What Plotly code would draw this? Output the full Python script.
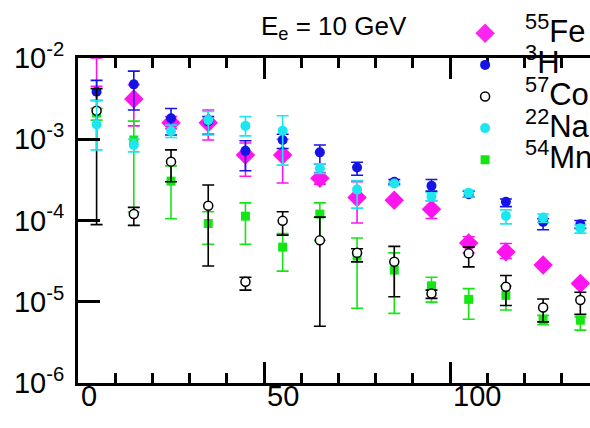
import numpy as np
import plotly.graph_objects as go

# Bin centres (x) shared by all isotopes
x_bins = [5, 15, 25, 35, 45, 55, 65, 75, 85, 95, 105, 115, 125, 135]

# 55Fe
fe_val = [7.0e-3, 3.13e-3, 1.6e-3, 1.6e-3, 6.4e-4, 6.4e-4, 3.3e-4, 1.92e-4, 1.78e-4, 1.38e-4, 5.3e-5, 4.1e-5, 2.83e-5, 1.68e-5]
fe_hi = [1.0e-2, 4.7e-3, 1.9e-3, 2.29e-3, 9.0e-4, 1.0e-3, 3.9e-4, 3.0e-4, 1.9e-4, 1.75e-4, 6.3e-5, 5.2e-5, 3.0e-5, 1.8e-5]
fe_lo = [4.5e-3, 1.46e-3, 1.35e-3, 9.8e-4, 3.5e-4, 2.9e-4, 2.8e-4, 9.3e-5, 1.66e-4, 1.06e-4, 4.0e-5, 3.4e-5, 2.66e-5, 1.56e-5]

# 3H
h_val = [3.85e-3, 4.74e-3, 1.81e-3, 1.65e-3, 7.2e-4, 9.8e-4, 6.9e-4, 4.5e-4, 3.0e-4, 2.67e-4, 2.1e-4, 1.7e-4, 9.6e-5, 9.0e-5]
h_hi = [5.3e-3, 6.9e-3, 2.39e-3, 1.9e-3, 9.6e-4, 1.15e-3, 8.5e-4, 5.2e-4, 3.2e-4, 3.2e-4, 2.3e-4, 1.84e-4, 1.05e-4, 1.0e-4]
h_lo = [3.0e-3, 2.29e-3, 1.13e-3, 1.15e-3, 4.1e-4, 7.7e-4, 5.0e-4, 3.6e-4, 2.8e-4, 2.3e-4, 1.95e-4, 1.48e-4, 7.7e-5, 8.0e-5]

# 57Co
co_val = [2.24e-3, 1.2e-4, 5.3e-4, 1.52e-4, 1.76e-5, 9.9e-5, 5.7e-5, 4.0e-5, 3.1e-5, 1.26e-5, 3.94e-5, 1.53e-5, 8.5e-6, 1.05e-5]
co_hi = [4.2e-3, 1.45e-4, 7.4e-4, 2.73e-4, 2.0e-5, 1.28e-4, 1.1e-4, 4.5e-5, 4.8e-5, 1.39e-5, 4.7e-5, 2.1e-5, 1.08e-5, 1.31e-5]
co_lo = [8.9e-5, 8.7e-5, 3.0e-4, 2.76e-5, 1.39e-5, 6.6e-5, 5.0e-6, 3.1e-5, 1.15e-5, 1.1e-5, 2.69e-5, 9.0e-6, 5.66e-6, 7.0e-6]

# 22Na
na_val = [1.52e-3, 8.5e-4, 1.26e-3, 1.72e-3, 1.46e-3, 1.27e-3, 4.4e-4, 2.4e-4, 2.86e-4, 1.96e-4, 2.2e-4, 1.14e-4, 1.09e-4, 8.0e-5]
na_hi = [3.0e-3, 1.0e-3, 1.5e-3, 2.2e-3, 1.9e-3, 1.95e-3, 5.0e-4, 3.1e-4, 3.0e-4, 2.2e-4, 2.35e-4, 1.35e-4, 1.2e-4, 8.8e-5]
na_lo = [7.4e-4, 7.0e-4, 1.05e-3, 1.13e-3, 1.1e-3, 4.8e-4, 3.8e-4, 1.42e-4, 2.7e-4, 1.75e-4, 1.95e-4, 9.1e-5, 9.5e-5, 7.0e-5]

# 54Mn
mn_val = [2.1e-3, 9.8e-4, 3.05e-4, 9.2e-5, 1.13e-4, 4.7e-5, 1.2e-4, 3.65e-5, 2.45e-5, 1.57e-5, 1.07e-5, 1.2e-5, 5.93e-6, 5.93e-6]
mn_hi = [2.4e-3, 1.67e-3, 4.7e-4, 1.28e-4, 1.65e-4, 6.9e-5, 1.65e-4, 6.1e-5, 4.0e-5, 2.0e-5, 1.45e-5, 1.56e-5, 6.8e-6, 6.5e-6]
mn_lo = [1.72e-3, 1.27e-4, 1.05e-4, 5.1e-5, 5.1e-5, 2.38e-5, 5.7e-5, 8.3e-6, 7.2e-6, 9.9e-6, 6.1e-6, 7.9e-6, 5.2e-6, 4.47e-6]

y_tickvals = [1e-6, 1e-5, 1e-4, 1e-3, 1e-2]
y_ticktext = ["10<sup>-6</sup>", "10<sup>-5</sup>", "10<sup>-4</sup>", "10<sup>-3</sup>", "10<sup>-2</sup>"]
x_tickvals = [0, 50, 100]

FONT = "Liberation Sans, Arial, sans-serif"


def label(mass, symbol):
    return f'<span style="font-size:31px"><sup>{mass}</sup>{symbol}</span>'


def series(name, val, hi, lo, color, symbol, size, rank, fill=None, opacity=None):
    v = np.array(val)
    up = np.array(hi) - v
    dn = v - np.array(lo)
    return go.Scatter(
        x=x_bins, y=val, mode="markers", name=name, legendrank=rank,
        marker=dict(symbol=symbol, size=size, color=fill or color,
                    opacity=opacity,
                    line=dict(color=color, width=1.5 if fill else 0)),
        error_y=dict(type="data", symmetric=False, array=up, arrayminus=dn,
                     color=color, thickness=1.6, width=6),
    )


fig = go.Figure()
fig.add_trace(series(label(55, "Fe"), fe_val, fe_hi, fe_lo, "#FF14F0", "diamond", 15, 1,
                     opacity=[0] + [1] * (len(fe_val) - 1)))
fig.add_trace(series(label(3, "H"), h_val, h_hi, h_lo, "#1414E6", "circle", 10, 2))
fig.add_trace(series(label(54, "Mn"), mn_val, mn_hi, mn_lo, "#14E614", "square", 9, 5))
fig.add_trace(series(label(57, "Co"), co_val, co_hi, co_lo, "#000000", "circle", 9, 3, fill="#FFFFFF"))
fig.add_trace(series(label(22, "Na"), na_val, na_hi, na_lo, "#1EE6F0", "circle", 10, 4))

axis_common = dict(showgrid=False, zeroline=False, linecolor="black", linewidth=3,
                   ticks="inside", tickcolor="black", tickwidth=3,
                   tickfont=dict(family=FONT, size=29, color="black"))

fig.update_xaxes(range=[0, 137.6], tickvals=x_tickvals, ticklen=21, mirror="ticks",
                 ticklabelposition="outside right", ticklabelstandoff=-15,
                 minor=dict(dtick=10, ticklen=10, tickwidth=3, ticks="inside", tickcolor="black"),
                 **axis_common)
fig.update_yaxes(type="log", range=[-6, -2], tickvals=y_tickvals, ticktext=y_ticktext,
                 ticklen=22, mirror=False, ticklabelstandoff=5, **axis_common)

fig.add_annotation(text="E<sub>e</sub> = 10 GeV", xref="paper", yref="paper",
                   x=0.5, y=1.095, showarrow=False, xanchor="center", yanchor="middle",
                   font=dict(family=FONT, size=26, color="black"))

fig.update_layout(
    width=590, height=428,
    margin=dict(l=78, r=0, t=58, b=45, autoexpand=False),
    paper_bgcolor="white", plot_bgcolor="white",
    font=dict(family=FONT, color="black"),
    legend=dict(x=0.717, y=1.14, xanchor="left", yanchor="top",
                font=dict(family=FONT, size=22, color="black"),
                bgcolor="rgba(0,0,0,0)", itemwidth=70, tracegroupgap=0),
)

fig.write_html("out.html")
